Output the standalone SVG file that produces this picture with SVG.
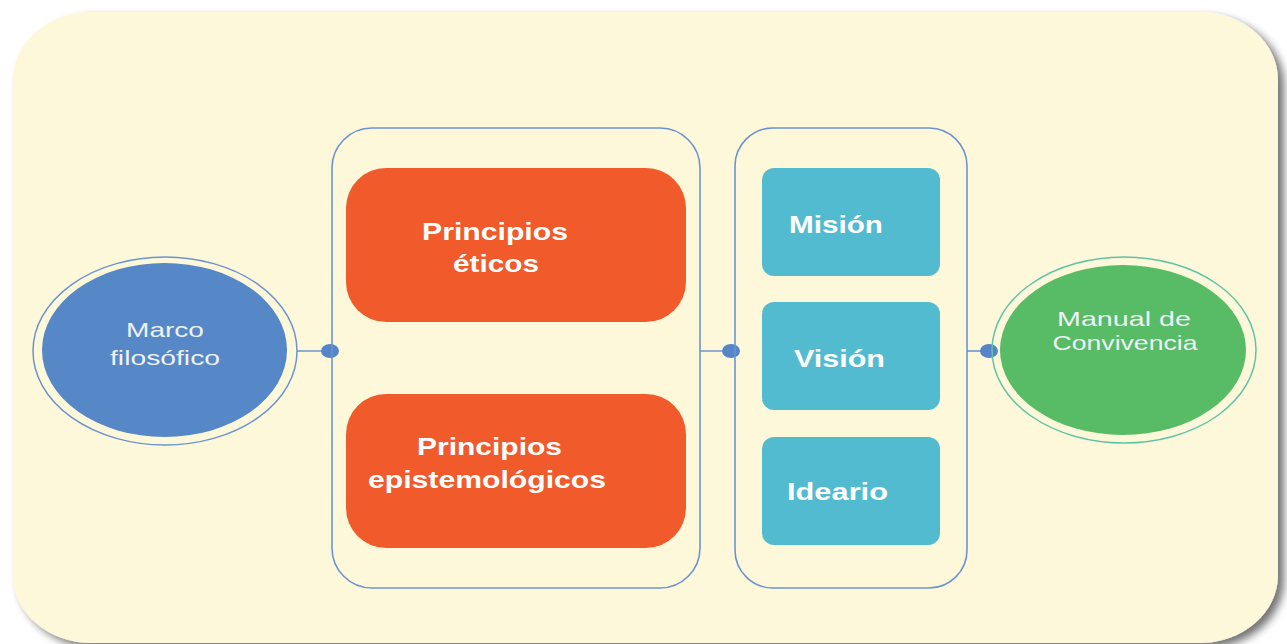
<svg xmlns="http://www.w3.org/2000/svg" width="1287" height="644" viewBox="0 0 1287 644">
<defs>
<filter id="shadow" x="-5%" y="-5%" width="112%" height="115%">
<feGaussianBlur in="SourceAlpha" stdDeviation="4"/>
<feOffset dx="6" dy="5" result="b"/>
<feComponentTransfer><feFuncA type="linear" slope="0.55"/></feComponentTransfer>
<feMerge><feMergeNode/><feMergeNode in="SourceGraphic"/></feMerge>
</filter>
<style>
.cont{fill:none;stroke:#6C93CF;stroke-width:1.6}
.orange{fill:#F15A2B}
.teal{fill:#52BBCF}
.big{font-family:"Liberation Sans",Arial,sans-serif;font-weight:bold;font-size:24px;fill:#FFFFFF}
.mid{font-family:"Liberation Sans",Arial,sans-serif;font-weight:bold;font-size:23px;fill:#FFFFFF}
.lbl{font-family:"Liberation Sans",Arial,sans-serif;font-size:21px;fill:#EEF2F6}
.conn{stroke:#6C93CF;stroke-width:1.6;fill:none}
.dot{fill:#5585C8}
</style>
</defs>
<rect x="0" y="0" width="1287" height="644" fill="#FFFFFF"/>
<rect id="background" x="13" y="12" width="1265" height="631" rx="78" ry="68" fill="#FEF8DB" filter="url(#shadow)"/>
<g id="connectors">
<line class="conn" x1="297" y1="351" x2="332" y2="351"/>
<line class="conn" x1="700" y1="351" x2="735" y2="351"/>
<line class="conn" x1="967" y1="351" x2="992" y2="351"/>
<ellipse class="dot" cx="330" cy="351" rx="9" ry="7"/>
<ellipse class="dot" cx="731" cy="351" rx="9" ry="7"/>
<ellipse class="dot" cx="989" cy="351" rx="9" ry="7"/>
</g>
<g id="marco">
<ellipse cx="165" cy="351" rx="132" ry="94" fill="none" stroke="#6C93CF" stroke-width="1.5"/>
<ellipse cx="164.5" cy="350" rx="122.5" ry="87" fill="#5687C6"/>
<text class="lbl" font-size="22" x="165" y="337" text-anchor="middle" textLength="78" lengthAdjust="spacingAndGlyphs">Marco</text>
<text class="lbl" font-size="22" x="165" y="365" text-anchor="middle" textLength="110" lengthAdjust="spacingAndGlyphs">filosófico</text>
</g>
<g id="principios-container">
<rect class="cont" x="332" y="128" width="368" height="460" rx="40" ry="40"/>
</g>
<g id="principios-eticos">
<rect class="orange" x="346" y="168" width="340" height="154" rx="40" ry="40"/>
<text class="big" x="422" y="240" textLength="146" lengthAdjust="spacingAndGlyphs">Principios</text>
<text class="big" x="453" y="272" textLength="86" lengthAdjust="spacingAndGlyphs">éticos</text>
</g>
<g id="principios-epistemologicos">
<rect class="orange" x="346" y="394" width="340" height="154" rx="40" ry="40"/>
<text class="big" x="417" y="455" textLength="145" lengthAdjust="spacingAndGlyphs">Principios</text>
<text class="big" x="368" y="488" textLength="238" lengthAdjust="spacingAndGlyphs">epistemológicos</text>
</g>
<g id="mvi-container">
<rect class="cont" x="735" y="128" width="232" height="460" rx="38" ry="38"/>
</g>
<g id="mision">
<rect class="teal" x="762" y="168" width="178" height="108" rx="12" ry="12"/>
<text class="mid" x="789" y="233" textLength="94" lengthAdjust="spacingAndGlyphs">Misión</text>
</g>
<g id="vision">
<rect class="teal" x="762" y="302" width="178" height="108" rx="12" ry="12"/>
<text class="mid" x="794" y="367" textLength="91" lengthAdjust="spacingAndGlyphs">Visión</text>
</g>
<g id="ideario">
<rect class="teal" x="762" y="437" width="178" height="108" rx="12" ry="12"/>
<text class="mid" x="787" y="500" textLength="101" lengthAdjust="spacingAndGlyphs">Ideario</text>
</g>
<g id="manual">
<ellipse cx="1124" cy="350" rx="132" ry="93" fill="none" stroke="#5EC3A6" stroke-width="1.5"/>
<ellipse cx="1123" cy="350" rx="123" ry="85" fill="#58BB66"/>
<text class="lbl" font-size="19" x="1124" y="326" text-anchor="middle" textLength="134" lengthAdjust="spacingAndGlyphs">Manual de</text>
<text class="lbl" font-size="19" x="1125" y="350" text-anchor="middle" textLength="145" lengthAdjust="spacingAndGlyphs">Convivencia</text>
</g>
</svg>
